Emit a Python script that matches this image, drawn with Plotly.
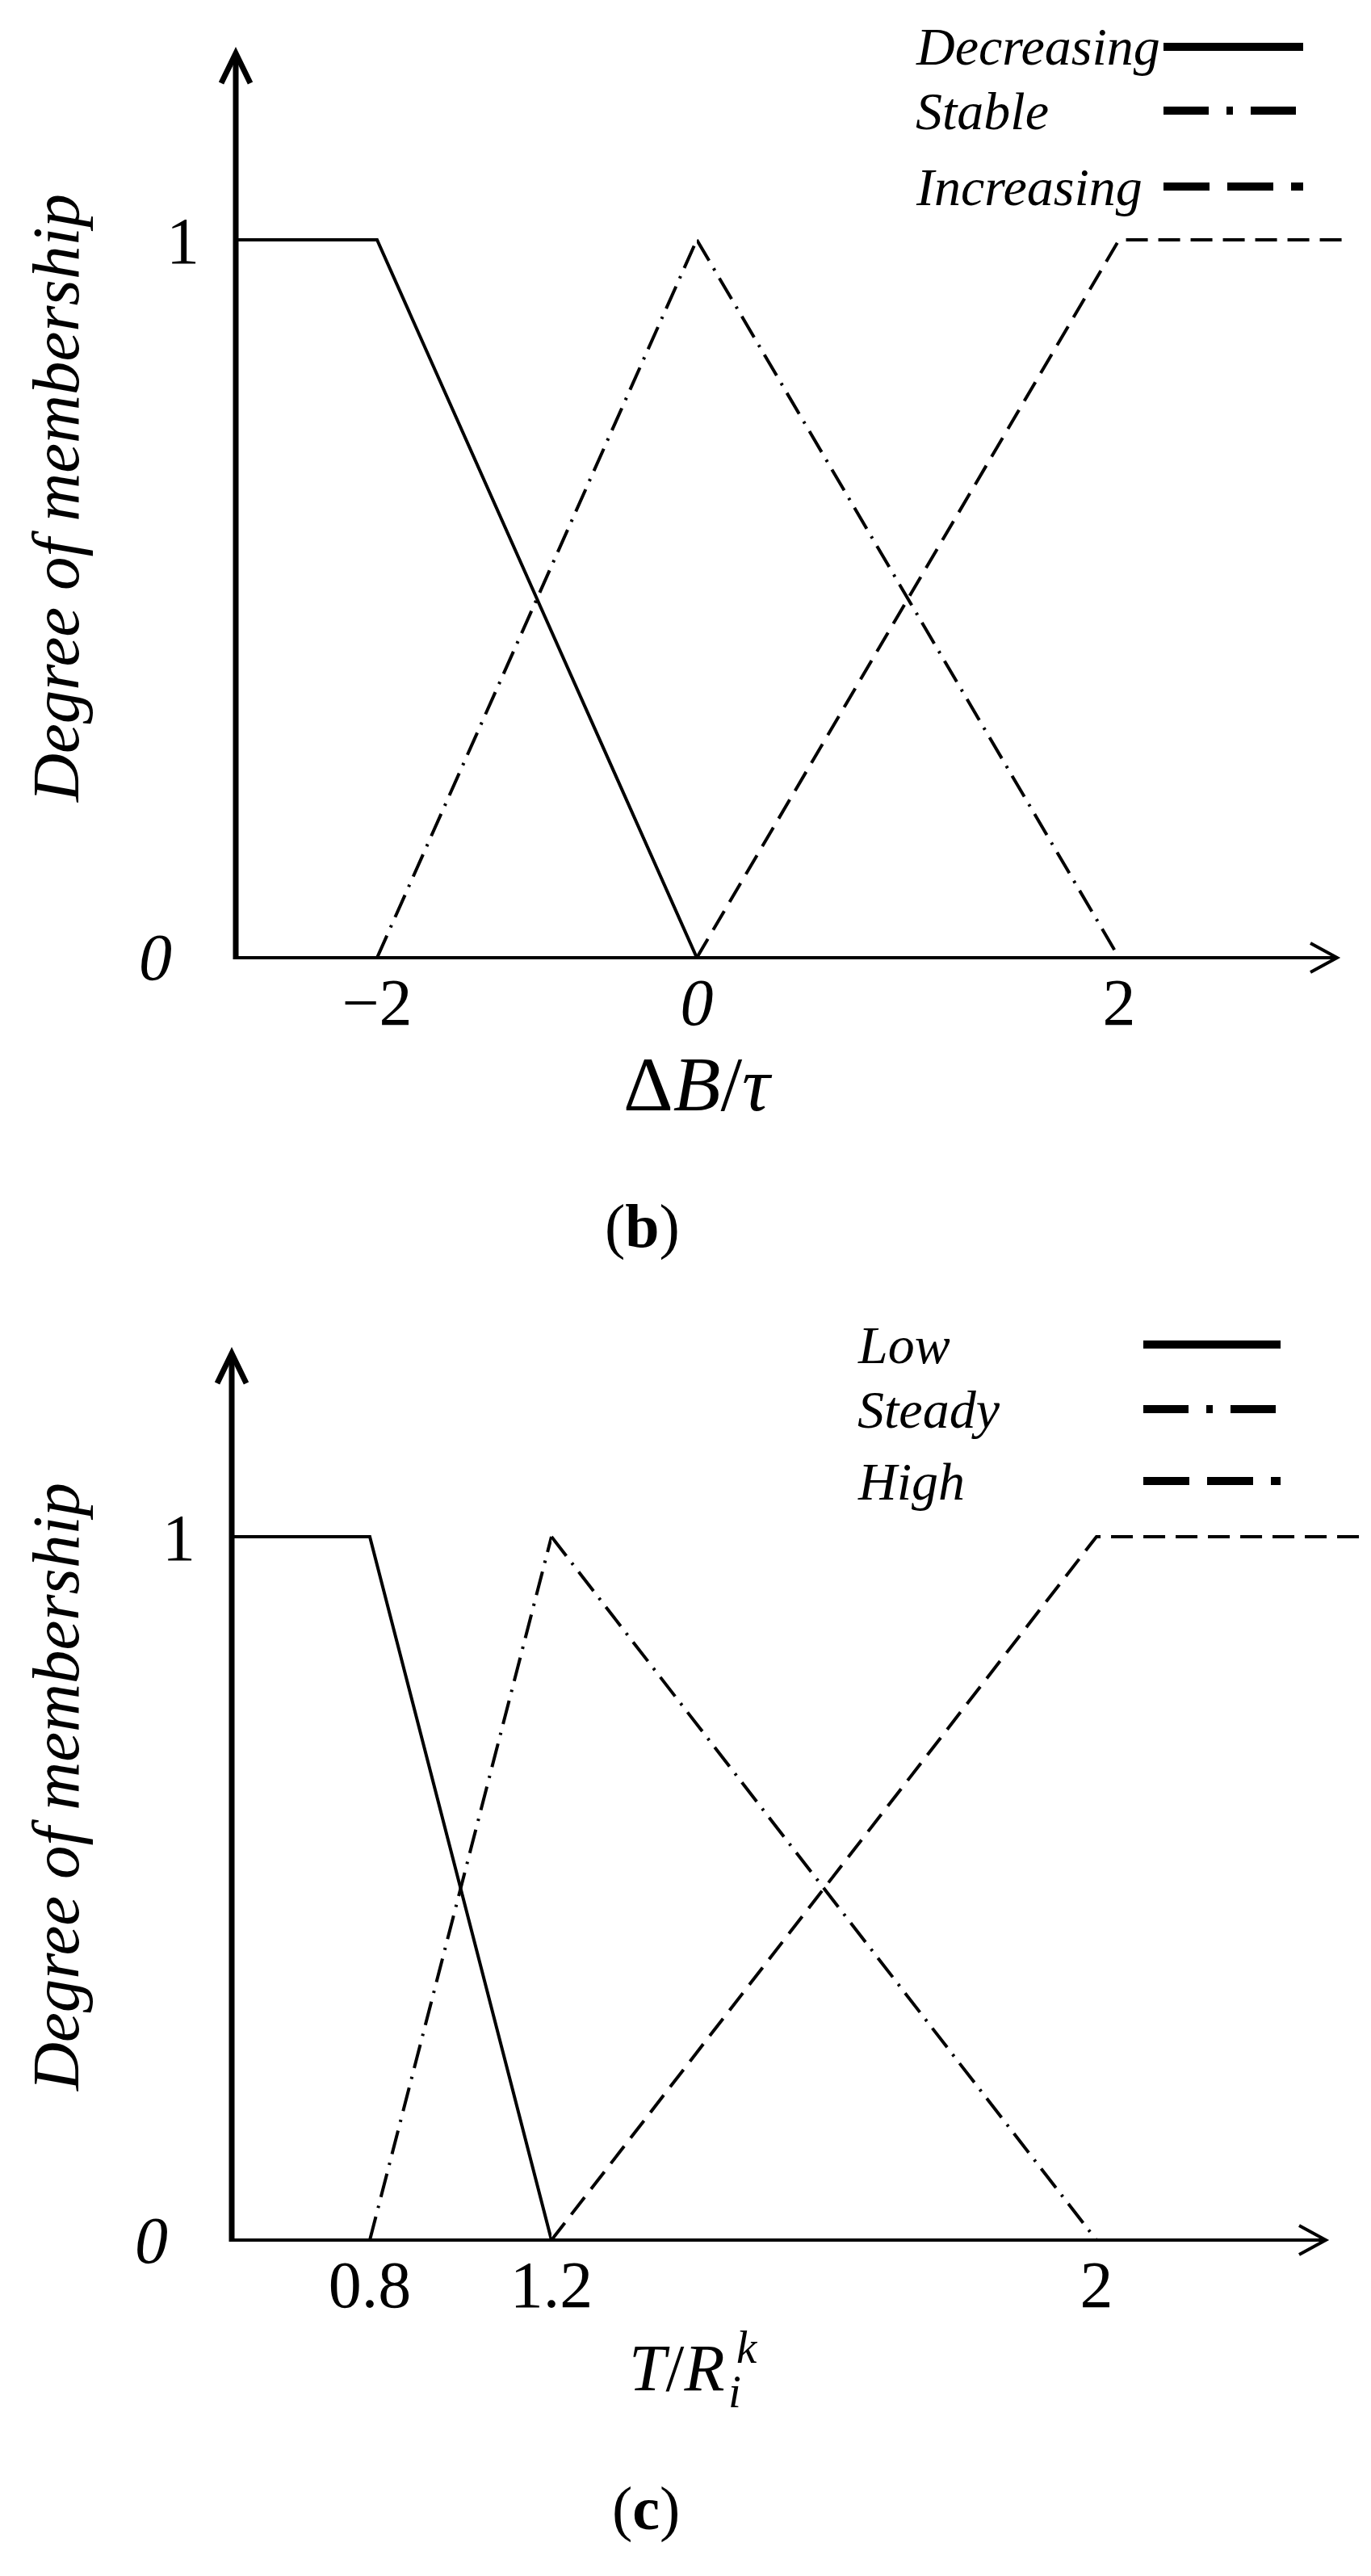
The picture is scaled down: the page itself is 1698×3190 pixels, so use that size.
import plotly.graph_objects as go

# ---- data: panel (b), membership of the buffer change dB/tau ----
b_ticks = [-2, 0, 2]
b_ticktext = ["\u22122", "<i>0</i>", "2"]
b_names = ["Decreasing", "Stable", "Increasing"]
dec_x = [-2.9, -2, 0]
dec_y = [1, 1, 0]
sta_x = [-2, 0, 2]
sta_y = [0, 1, 0]
inc_x = [0, 2, 3.1]
inc_y = [0, 1, 1]

# ---- data: panel (c), membership of T/R_i^k ----
c_ticks = [0.8, 1.2, 2]
c_ticktext = ["0.8", "1.2", "2"]
c_names = ["Low", "Steady", "High"]
low_x = [0.5, 0.8, 1.2]
low_y = [1, 1, 0]
std_x = [0.8, 1.2, 2]
std_y = [0, 1, 0]
high_x = [1.2, 2, 2.4]
high_y = [0, 1, 1]

W, H = 1698, 3190
SERIF = "Liberation Serif, Times New Roman, serif"

# line styles: (plot dash, legend sample dash)
STYLES = [("solid", "solid"),
          ("30px,11px,3px,11px", "56px,22px,8px,22px"),
          ("27px,13px", "57px,22px")]


def px(x):
    return x / W


def py(y):
    return 1 - y / H


# the schematic x axis is not uniform, so each panel uses two linear
# x axes that meet at a break value
panels = [
    dict(xs=[dec_x, sta_x, inc_x], ys=[dec_y, sta_y, inc_y], names=b_names,
         ticks=b_ticks, ticktext=b_ticktext, axes=("x", "x2", "y"),
         x0=284, x1=1663, arrow=1648, zero=1178, one=289, top=150, tip=58,
         brk=0, brk_px=855, lref=(-2, 459), rref=(2, 1378),
         ytitle=609, leg_x=1124, leg_s0=1433, leg_s1=1606, leg_y=[50, 129, 223]),
    dict(xs=[low_x, std_x, high_x], ys=[low_y, std_y, high_y], names=c_names,
         ticks=c_ticks, ticktext=c_ticktext, axes=("x3", "x4", "y2"),
         x0=279, x1=1690, arrow=1634, zero=2766, one=1895, top=1760, tip=1668,
         brk=1.2, brk_px=675, lref=(0.8, 450), rref=(2, 1350),
         ytitle=2205, leg_x=1052, leg_s0=1408, leg_s1=1578, leg_y=[1657, 1737, 1826]),
]


def key(ref):
    return ref[0] + "axis" + ref[1:]


def note(fig, text, x, y, size, **kw):
    kw.setdefault("xanchor", "center")
    kw.setdefault("yanchor", "middle")
    fig.add_annotation(text=text, x=px(x), y=py(y), xref="paper", yref="paper",
                       showarrow=False, font=dict(family=SERIF, size=size, color="black"), **kw)


fig = go.Figure()
shapes = []

for p in panels:
    xl, xr, ya = p["axes"]
    brk, bpx = p["brk"], p["brk_px"]
    sl = (bpx - p["lref"][1]) / (brk - p["lref"][0])
    sr = (p["rref"][1] - bpx) / (p["rref"][0] - brk)
    left_rng = [brk - (bpx - p["x0"]) / sl, brk]
    right_rng = [brk, brk + (p["x1"] - bpx) / sr]

    common = dict(showgrid=False, zeroline=False, showline=False, ticks="",
                  automargin=False, fixedrange=True,
                  tickfont=dict(family=SERIF, size=82, color="black"))
    lt = [(v, t) for v, t in zip(p["ticks"], p["ticktext"]) if v < brk]
    rt = [(v, t) for v, t in zip(p["ticks"], p["ticktext"]) if v >= brk]
    fig.update_layout({
        key(xl): dict(domain=[px(p["x0"]), px(bpx)], range=left_rng, anchor=ya,
                      tickvals=[v for v, _ in lt], ticktext=[t for _, t in lt],
                      ticklabelstandoff=0, **common),
        key(xr): dict(domain=[px(bpx), px(p["x1"])], range=right_rng, anchor=ya,
                      tickvals=[v for v, _ in rt], ticktext=[t for _, t in rt],
                      ticklabelstandoff=0, **common),
        key(ya): dict(domain=[py(p["zero"]), py(p["top"])],
                      range=[0, (p["zero"] - p["top"]) / (p["zero"] - p["one"])],
                      anchor=xl, tickvals=[1], ticktext=["1"],
                      ticklabelstandoff=44, **common),
    })

    # membership functions, split at the break value
    for xs, ys, (dash, _) in zip(p["xs"], p["ys"], STYLES):
        left = [(x, y) for x, y in zip(xs, ys) if x <= brk]
        right = [(x, y) for x, y in zip(xs, ys) if x >= brk]
        for pts, xa in ((left, xl), (right, xr)):
            if len(pts) > 1:
                fig.add_trace(go.Scatter(
                    x=[q[0] for q in pts], y=[q[1] for q in pts],
                    xaxis=xa, yaxis=ya, mode="lines", hoverinfo="skip",
                    line=dict(color="black", width=4, dash=dash)))

    # axes with open arrow heads
    x0, ax, zero, tip = p["x0"], p["arrow"], p["zero"], p["tip"]
    line = dict(type="line", xref="paper", yref="paper")
    shapes.append(dict(line, x0=px(x0), x1=px(x0), y0=py(zero + 2), y1=py(tip + 4),
                       line=dict(color="black", width=7)))
    shapes.append(dict(line, x0=px(x0 - 2), x1=px(ax - 2), y0=py(zero), y1=py(zero),
                       line=dict(color="black", width=4)))
    shapes.append(dict(type="path", xref="paper", yref="paper",
                       path=f"M{px(x0 - 18)},{py(tip + 37)} L{px(x0)},{py(tip)} L{px(x0 + 18)},{py(tip + 37)}",
                       line=dict(color="black", width=7)))
    shapes.append(dict(type="path", xref="paper", yref="paper",
                       path=f"M{px(ax - 33)},{py(zero - 18)} L{px(ax)},{py(zero)} L{px(ax - 33)},{py(zero + 18)}",
                       line=dict(color="black", width=4)))

    # origin label and y title
    note(fig, "<i>0</i>", x0 - 100, zero, 82)
    note(fig, "<i>Degree of membership</i>", 61, p["ytitle"], 83, textangle=-90)

    # hand-drawn legend, text left of a long line sample
    for name, (_, ldash), ly in zip(p["names"], STYLES, p["leg_y"]):
        note(fig, f"<i>{name}</i>", p["leg_x"], ly, 66, xanchor="left")
        shapes.append(dict(line, x0=px(p["leg_s0"]), x1=px(p["leg_s1"]), y0=py(ly), y1=py(ly),
                           line=dict(color="black", width=10, dash=ldash)))

# axis titles and panel captions
note(fig, "\u0394<i>B</i>/<i>\u03c4</i>", 856, 1334, 96)
note(fig, "<i>T</i>/<i>R</i>", 769, 2924, 82, xanchor="left")
note(fig, "<i>i</i>", 902, 2953, 57)
note(fig, "<i>k</i>", 918, 2898, 57)
note(fig, "(<b>b</b>)", 787, 1510, 76)
note(fig, "(<b>c</b>)", 792, 3098, 76)

fig.update_layout(width=W, height=H, margin=dict(l=0, r=0, t=0, b=0, autoexpand=False),
                  paper_bgcolor="white", plot_bgcolor="white",
                  showlegend=False, shapes=shapes)

fig.write_html("out.html")
